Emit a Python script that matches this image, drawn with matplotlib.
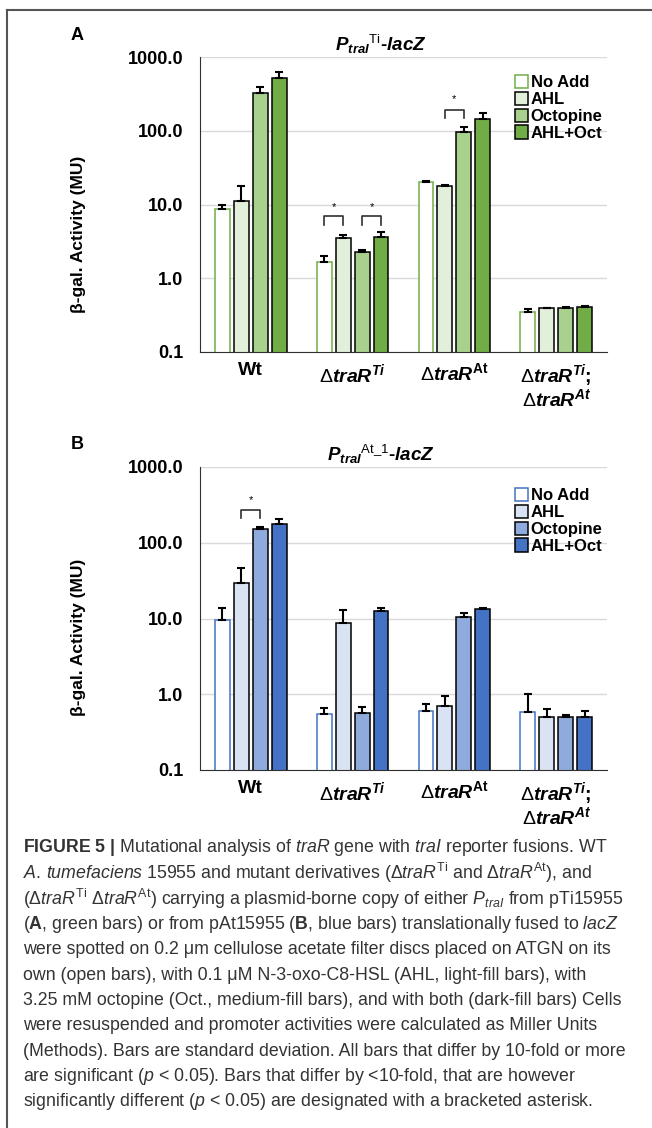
import matplotlib
matplotlib.use('Agg')
import matplotlib.pyplot as plt
from matplotlib.patches import Patch
from matplotlib.lines import Line2D
import numpy as np

plt.rcParams['font.family'] = ['Liberation Sans', 'DejaVu Sans']
plt.rcParams['mathtext.fontset'] = 'custom'
plt.rcParams['mathtext.rm'] = 'Liberation Sans'
plt.rcParams['mathtext.it'] = 'Liberation Sans:italic'
plt.rcParams['mathtext.bf'] = 'Liberation Sans:bold'
plt.rcParams['mathtext.bfit'] = 'Liberation Sans:bold:italic'

# --- data ---
strains = ['Wt',
           r'$\Delta\mathbfit{traR}^{\mathbfit{Ti}}$',
           r'$\Delta\mathbfit{traR}^{\mathbf{At}}$',
           r'$\Delta\mathbfit{traR}^{\mathbfit{Ti}}\mathbf{;}$' + '\n' + r'$\Delta\mathbfit{traR}^{\mathbfit{At}}$']
treatments = ['No Add', 'AHL', 'Octopine', 'AHL+Oct']

# panel A, P_traI Ti - lacZ
a_noadd = [8.6, 1.64, 20.4, 0.35]
a_ahl = [11.3, 3.56, 17.6, 0.39]
a_oct = [325, 2.25, 97, 0.40]
a_both = [520, 3.6, 145, 0.41]
a_noadd_sd = [1.4, 0.36, 0.6, 0.03]
a_ahl_sd = [6.7, 0.3, 1.0, 0.01]
a_oct_sd = [65, 0.2, 16, 0.01]
a_both_sd = [110, 0.6, 30, 0.01]

# panel B, P_traI At_1 - lacZ
b_noadd = [9.7, 0.55, 0.61, 0.59]
b_ahl = [29.7, 8.6, 0.70, 0.50]
b_oct = [152, 0.57, 10.6, 0.50]
b_both = [178, 12.7, 13.5, 0.50]
b_noadd_sd = [4.2, 0.10, 0.13, 0.41]
b_ahl_sd = [17, 4.5, 0.24, 0.13]
b_oct_sd = [10, 0.10, 1.4, 0.03]
b_both_sd = [30, 1.1, 0.4, 0.10]

# significance brackets: (group, bar i, bar j, leg bottom, bracket top, star y)
a_brackets = [(1, 0, 1, 5.2, 6.9, 9.1), (1, 2, 3, 5.2, 6.9, 9.1), (2, 1, 2, 150, 192, 270)]
b_brackets = [(0, 1, 2, 213, 270, 370)]

green = ['white', '#e2efda', '#a9d18e', '#70ad47']
blue = ['white', '#dae3f3', '#8faadc', '#4472c4']

W, H = 652, 1128
fig = plt.figure(figsize=(W / 100, H / 100), dpi=100)


def fx(px):
    return px / W


def fy(py):
    return 1 - py / H


pitch = 0.186
bw = 0.147
x = np.arange(len(strains))


def panel(top, bottom, vals, sds, colors, title, letter, brackets, leg_top, ylab_y):
    ax = fig.add_axes([fx(200), fy(bottom), fx(607) - fx(200), (bottom - top) / H])
    for k in range(4):
        edge = colors[3] if k == 0 else 'black'
        ax.bar(x + (k - 1.5) * pitch, vals[k], bw, color=colors[k], edgecolor=edge,
               linewidth=1.1, label=treatments[k], zorder=2)
        ax.errorbar(x + (k - 1.5) * pitch, vals[k], yerr=[np.zeros(4), sds[k]], fmt='none',
                    ecolor='black', elinewidth=1.5, capsize=3, capthick=1.5, zorder=3)
    ax.set_yscale('log')
    ax.set_ylim(0.1, 1000)
    ax.set_xlim(-0.5, 3.5)
    ax.set_yticks([0.1, 1, 10, 100, 1000])
    ax.set_yticklabels(['0.1', '1.0', '10.0', '100.0', '1000.0'], fontsize=13, fontweight='bold')
    ax.minorticks_off()
    ax.set_xticks(x)
    ax.set_xticklabels(strains, fontsize=14, fontweight='bold', va='top', linespacing=1.0)
    ax.tick_params(axis='y', length=0, pad=12)
    ax.tick_params(axis='x', length=0, pad=7)
    ax.yaxis.grid(True, color='#d9d9d9', linewidth=1.0)
    ax.set_axisbelow(True)
    for s in ['top', 'right']:
        ax.spines[s].set_visible(False)
    ax.spines['left'].set_color('#303030')
    ax.spines['bottom'].set_color('#303030')

    for g, i, j, lo, hi, st in brackets:
        xi = g + (i - 1.5) * pitch
        xj = g + (j - 1.5) * pitch
        ax.plot([xi, xi, xj, xj], [lo, hi, hi, lo], color='#303030', lw=1.2, zorder=4)
        ax.text((xi + xj) / 2, st, '*', ha='center', va='center', fontsize=8)

    handles = [Patch(facecolor=colors[k], edgecolor=(colors[3] if k == 0 else 'black'), linewidth=1.1)
               for k in range(4)]
    ax.legend(handles, treatments, loc='upper left', bbox_to_anchor=(fx(515), fy(leg_top)),
              bbox_transform=fig.transFigure, frameon=False, borderpad=0, handlelength=0.75,
              handleheight=0.85, handletextpad=0.2, labelspacing=0.08, borderaxespad=0,
              prop={'weight': 'bold', 'size': 12})

    fig.text(fx(381), fy(top - 13), title, ha='center', va='center', fontsize=13.5, fontweight='bold')
    fig.text(fx(77), fy(top - 22), letter, ha='center', va='center', fontsize=13, fontweight='bold')
    fig.text(fx(79), fy(ylab_y), 'β-gal. Activity (MU)', rotation=90, ha='center', va='center',
             fontsize=12.5, fontweight='bold')
    return ax


panel(57, 352, [a_noadd, a_ahl, a_oct, a_both], [a_noadd_sd, a_ahl_sd, a_oct_sd, a_both_sd], green,
      r'$\mathbfit{P}_{\mathbfit{traI}}{}^{\mathrm{Ti}}$-$\mathbfit{lacZ}$', 'A', a_brackets, 75, 234)
panel(467, 770, [b_noadd, b_ahl, b_oct, b_both], [b_noadd_sd, b_ahl_sd, b_oct_sd, b_both_sd], blue,
      r'$\mathbfit{P}_{\mathbfit{traI}}{}^{\mathrm{At\_1}}$-$\mathbfit{lacZ}$', 'B', b_brackets, 488, 637)

# frame
fig.add_artist(Line2D([fx(7), 1], [fy(10), fy(10)], color='#555555', lw=1.5))
fig.add_artist(Line2D([fx(7), fx(7)], [fy(10), 0], color='#555555', lw=1.5))

caption = [
    r'$\mathbf{FIGURE\ 5\ |}$ Mutational analysis of $\mathit{traR}$ gene with $\mathit{traI}$ reporter fusions. WT',
    r'$\mathit{A.\,tumefaciens}$ 15955 and mutant derivatives (Δ$\mathit{traR}^{\mathrm{Ti}}$ and Δ$\mathit{traR}^{\mathrm{At}}$), and',
    r'(Δ$\mathit{traR}^{\mathrm{Ti}}$ Δ$\mathit{traR}^{\mathrm{At}}$) carrying a plasmid-borne copy of either $\mathit{P}_{\mathit{traI}}$ from pTi15955',
    r'($\mathbf{A}$, green bars) or from pAt15955 ($\mathbf{B}$, blue bars) translationally fused to $\mathit{lacZ}$',
    'were spotted on 0.2 μm cellulose acetate filter discs placed on ATGN on its',
    'own (open bars), with 0.1 μM N-3-oxo-C8-HSL (AHL, light-fill bars), with',
    '3.25 mM octopine (Oct., medium-fill bars), and with both (dark-fill bars) Cells',
    'were resuspended and promoter activities were calculated as Miller Units',
    '(Methods). Bars are standard deviation. All bars that differ by 10-fold or more',
    r'are significant ($\mathit{p}$ < 0.05). Bars that differ by <10-fold, that are however',
    r'significantly different ($\mathit{p}$ < 0.05) are designated with a bracketed asterisk.',
]
for n, line in enumerate(caption):
    fig.text(fx(23), fy(848 + n * 25.4), line, ha='left', va='center', fontsize=12.8, color='#333333')

fig.savefig('out.png', dpi=100)
